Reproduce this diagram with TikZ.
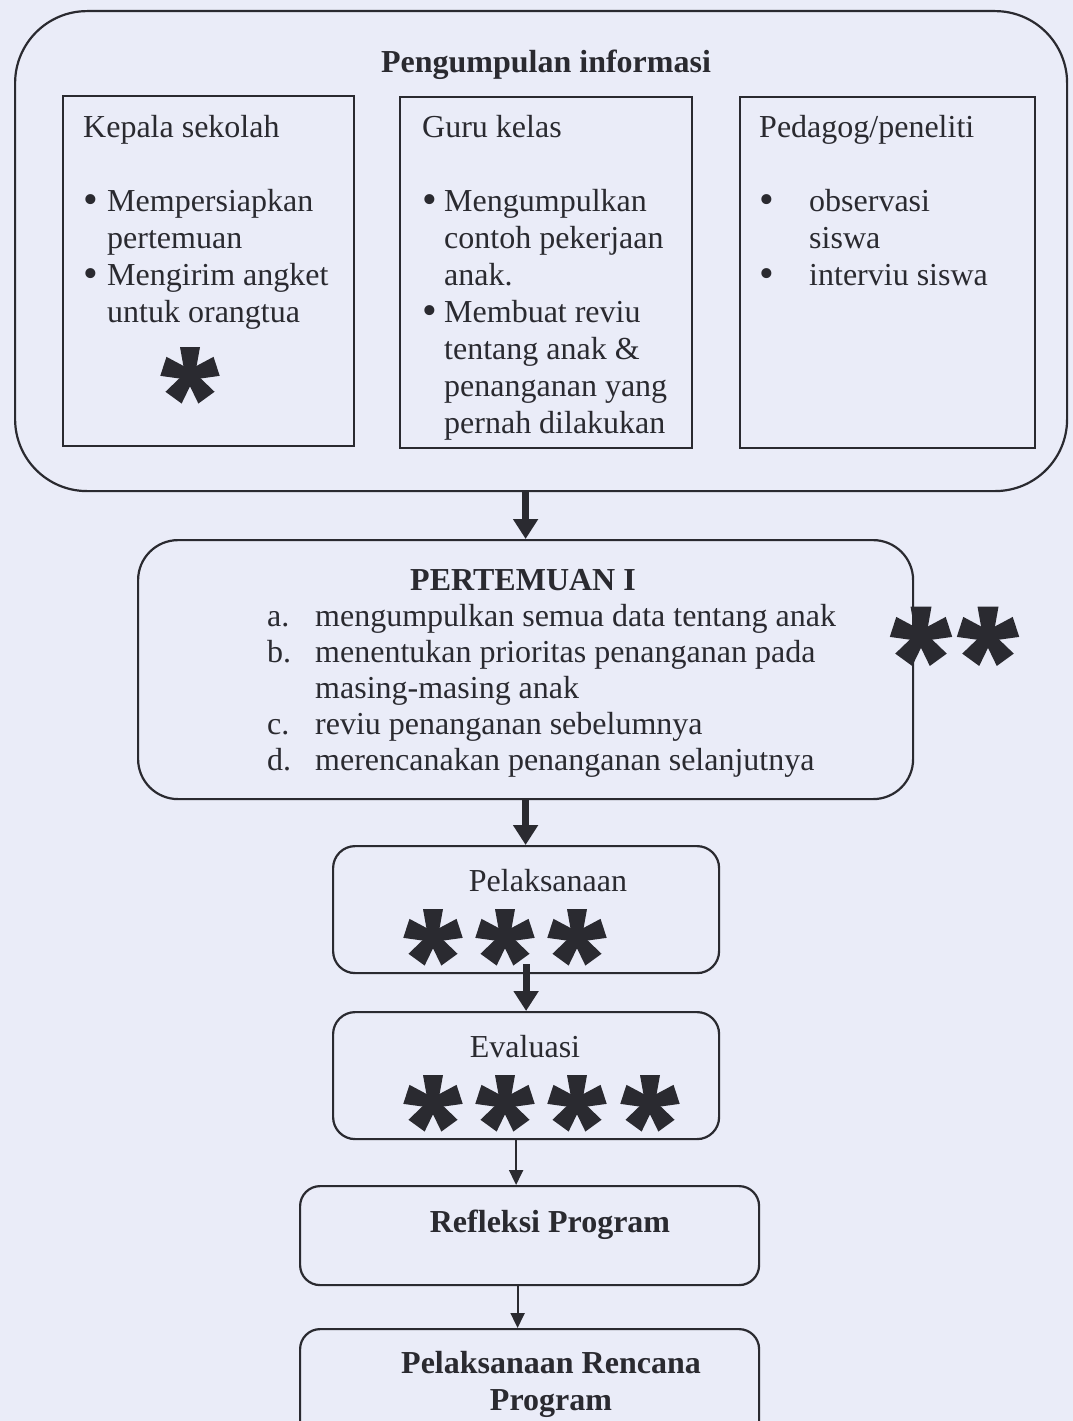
\documentclass[tikz,border=0pt]{standalone}
\usepackage{fontspec}
\setmainfont{Liberation Serif}
\usetikzlibrary{arrows.meta}
\definecolor{bg}{RGB}{234,236,248}
\definecolor{ink}{RGB}{42,42,48}
\newcommand\bigbul{{\fontsize{42}{37}\selectfont\raisebox{-2pt}{•}}}
\begin{document}
\begin{tikzpicture}[x=1pt,y=1pt,
  box/.style={draw=ink, line width=2.2pt, inner sep=0pt, anchor=north west},
  rbox/.style={box, rounded corners=20pt},
  txt/.style={text=ink, inner sep=0pt, font=\fontsize{32}{37}\selectfont},
  thickarr/.style={draw=ink, line width=7pt, -{Triangle[width=24pt,length=20pt]}},
  thinarr/.style={draw=ink, line width=2pt, -{Triangle[width=14pt,length=15pt]}},
  astk/.pic={
    \fill[ink] (0,0) circle (8);
    \foreach \a in {90,18,162,234,306}{
      \fill[ink, rotate=\a] (0,-5) -- (28,-10) -- (28,10) -- (0,5) -- cycle;
    }
  }]
\useasboundingbox (0,0) rectangle (1073,-1421);
\fill[bg] (0,0) rectangle (1073,-1421);
\clip (0,0) rectangle (1073,-1421);

% boxes
\node[box, rounded corners=72pt, minimum width=1052pt, minimum height=480pt] (outer) at (14,-10) {};
\node[box, minimum width=291pt, minimum height=350pt] (kepala) at (62,-95) {};
\node[box, minimum width=292pt, minimum height=351pt] (guru) at (399,-96) {};
\node[box, minimum width=295pt, minimum height=351pt] (pedagog) at (739,-96) {};
\node[rbox, rounded corners=40pt, minimum width=775pt, minimum height=259pt] (pert) at (137,-539) {};
\node[rbox, rounded corners=22pt, minimum width=386pt, minimum height=127pt] (pel) at (332,-845) {};
\node[rbox, rounded corners=22pt, minimum width=386pt, minimum height=127pt] (eval) at (332,-1011) {};
\node[rbox, minimum width=459pt, minimum height=99pt] (refl) at (299,-1185) {};
\node[rbox, minimum width=459pt, minimum height=130pt] (plan) at (299,-1328) {};

% texts
\node[txt, anchor=base] (t0) at (546,-73) {\bfseries Pengumpulan informasi};
\node[txt, anchor=base west] (t1) at (83,-137) {\begin{tabular}[t]{@{}l@{}l@{}}
\multicolumn{2}{@{}l@{}}{Kepala sekolah}\\
\\
\makebox[24pt][l]{\bigbul} & Mempersiapkan\\
 & pertemuan\\
\bigbul & Mengirim angket\\
 & untuk orangtua
\end{tabular}};
\node[txt, anchor=base west] (t2) at (422,-137) {\begin{tabular}[t]{@{}l@{}l@{}}
\multicolumn{2}{@{}l@{}}{Guru kelas}\\
\\
\makebox[22pt][l]{\bigbul} & Mengumpulkan\\
 & contoh pekerjaan\\
 & anak.\\
\bigbul & Membuat reviu\\
 & tentang anak \&\\
 & penanganan yang\\
 & pernah dilakukan
\end{tabular}};
\node[txt, anchor=base west] (t3) at (759,-137) {\begin{tabular}[t]{@{}l@{}l@{}}
\multicolumn{2}{@{}l@{}}{Pedagog/peneliti}\\
\\
\makebox[50pt][l]{\bigbul} & observasi\\
 & siswa\\
\bigbul & interviu siswa
\end{tabular}};

\node[txt, anchor=base] (ptitle) at (523,-590) {\bfseries PERTEMUAN I};
\node[txt, anchor=base west, font=\fontsize{32}{36}\selectfont] (plist) at (267,-626) {\begin{tabular}[t]{@{}p{48pt}@{}l@{}}
a. & mengumpulkan semua data tentang anak\\
b. & menentukan prioritas penanganan pada\\
 & masing-masing anak\\
c. & reviu penanganan sebelumnya\\
d. & merencanakan penanganan selanjutnya
\end{tabular}};

\node[txt, anchor=base] (tpel) at (548,-891) {Pelaksanaan};
\node[txt, anchor=base] (teval) at (525,-1057) {Evaluasi};
\node[txt, anchor=base] (trefl) at (550,-1232) {\bfseries Refleksi Program};
\node[txt, anchor=base] (tplan) at (551,-1373) {\bfseries\begin{tabular}[t]{@{}c@{}}Pelaksanaan Rencana\\Program\end{tabular}};

% asterisks
\pic at (190,-375) {astk};
\pic[scale=1.05] at (921,-636) {astk};
\pic[scale=1.05] at (988,-636) {astk};
\foreach \x in {433,505,577} { \pic at (\x,-937) {astk}; }
\foreach \x in {433,505,577,650} { \pic at (\x,-1103) {astk}; }

% connectors
\draw[thickarr] (outer.south -| pert.north) -- (pert.north);
\draw[thickarr] (pert.south) -- (pert.south |- pel.north);
\draw[thickarr] ([yshift=10pt]pel.south) -- (pel.south |- eval.north);
\draw[thinarr] ([xshift=-10pt]eval.south) -- ([xshift=-10pt]eval.south |- refl.north);
\draw[thinarr] ([xshift=-12pt]refl.south) -- ([xshift=-12pt]refl.south |- plan.north);
\end{tikzpicture}
\end{document}
